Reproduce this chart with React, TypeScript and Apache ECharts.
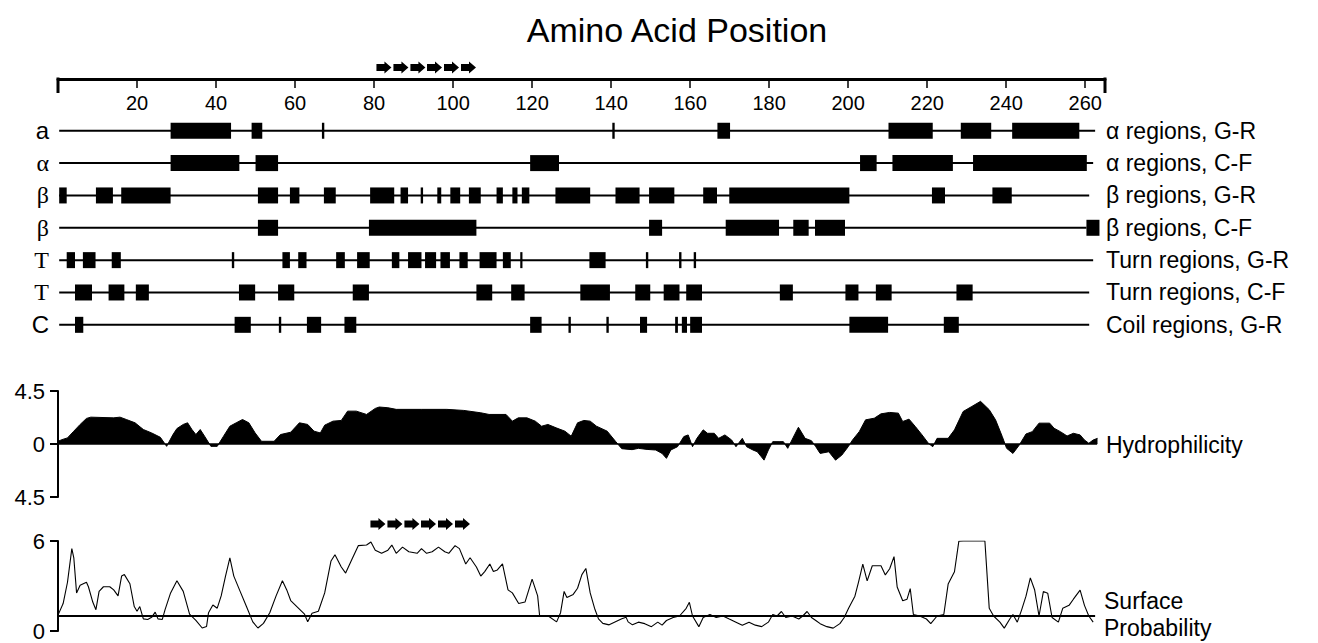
import React, { useEffect, useRef } from "react";
import * as echarts from "echarts";

const SANS = '"Liberation Sans", Arial, Helvetica, sans-serif';
const SERIF = '"Liberation Serif", "Times New Roman", serif';

// Position axis
const positionRange = [0, 265];
const positionInterval = 20;
const positionTickLabels = ["20", "40", "60", "80", "100", "120", "140", "160", "180", "200", "220", "240", "260"];

// Track rows
const rowLeftLabels = ["a", "α", "β", "β", "T", "T", "C"];
const rowLeftSerif = [false, true, true, true, true, true, false];
const rowRightLabels = [
  "α regions, G-R",
  "α regions, C-F",
  "β regions, G-R",
  "β regions, C-F",
  "Turn regions, G-R",
  "Turn regions, C-F",
  "Coil regions, G-R",
];
const rowLineStart = [0.3, 0.3, 0.3, 0.3, 0.3, 0.3, 0.3];
const rowLineEnd = [262.5, 262, 261, 260.3, 262, 261, 261];

const alphaRegionsGR = [[28.5, 43.8], [49, 51.7], [66.8, 67.4], [140.3, 140.9], [166.9, 170.1], [210.2, 221.4], [228.5, 236.2], [241.5, 258.5]];
const alphaRegionsCF = [[28.5, 45.9], [50, 55.7], [119.5, 126.8], [203, 207.2], [211.2, 226.5], [231.6, 260.4]];
const betaRegionsGR = [[0.3, 2.2], [9.6, 13.9], [16, 28.5], [50.6, 55.7], [58.7, 61.1], [67.3, 70.3], [79, 85.1], [86.7, 88.6], [91.8, 92.4], [96, 97], [99.3, 101.8], [104, 107], [111, 112.6], [115, 116.3], [117.4, 119.3], [125.9, 134.7], [141.1, 147.2], [149.6, 156], [163.3, 166.8], [169.9, 200.3], [221.2, 224.5], [236.5, 241.4]];
const betaRegionsCF = [[50.6, 55.7], [78.7, 105.9], [149.6, 152.9], [169, 182.5], [186.1, 190], [191.6, 199.2], [260.3, 263.6]];
const turnRegionsGR = [[2.2, 4.3], [6.3, 9.5], [13.6, 15.9], [44, 44.6], [56.8, 58.7], [60.8, 62.9], [70.4, 72.6], [75.7, 78.9], [84.5, 86.4], [88.6, 92], [92.9, 95.7], [96.8, 99.2], [101.6, 103.7], [106.7, 111], [112.6, 114.6], [117, 117.5], [134.5, 138.6], [148.8, 149.4], [157.2, 157.8], [160.9, 161.5]];
const turnRegionsCF = [[4.3, 8.6], [12.8, 16.8], [19.7, 23], [45.8, 49.9], [55.7, 59.8], [74.6, 78.7], [105.9, 109.9], [114.7, 118.1], [132.2, 139.7], [146.1, 149.9], [153.3, 157.3], [159, 163], [182.7, 186], [199.3, 202.6], [207, 211], [227.4, 231.5]];
const coilRegionsGR = [[4.3, 6.4], [44.7, 48.8], [55.9, 56.5], [63, 66.6], [72.5, 75.5], [119.5, 122.4], [129.2, 129.8], [138.8, 139.4], [147.3, 149.1], [156.2, 156.9], [157.9, 159.2], [160, 163], [200.3, 210.1], [224.2, 228]];

const rowRegions = [alphaRegionsGR, alphaRegionsCF, betaRegionsGR, betaRegionsCF, turnRegionsGR, turnRegionsCF, coilRegionsGR];

// Peptide marker (arrows), residue positions
const peptideArrows = [80.6, 84.9, 89.2, 93.4, 97.7, 102.0];

// Hydrophilicity profile [position, value]
const hydrophilicity = [
  [0, 0.23], [1, 0.37], [2.4, 0.52], [4, 1.09], [5.6, 1.66], [7.2, 2.17], [8.3, 2.28], [14.1, 2.22], [15.7, 2.28], [17.3, 2.08],
  [19.5, 1.8], [21.6, 1.23], [23.7, 0.94], [25.9, 0.57], [27.5, -0.2], [29.1, 0.8], [30.1, 1.31], [31.7, 1.66], [32.8, 1.8], [33.9, 1.23],
  [34.9, 0.8], [36, 1.23], [37.1, 0.66], [38.7, -0.2], [40.3, -0.2], [41.9, 0.66], [43.5, 1.51], [45.1, 1.8], [46.7, 2.08], [48.3, 1.8],
  [49.9, 0.94], [51.5, 0.23], [54.7, 0.23], [56.3, 0.8], [58.9, 1.0], [61.1, 1.8], [63.2, 1.66], [64.8, 1.09], [66.4, 0.94], [67.5, 1.6],
  [69.6, 1.94], [71.7, 2.0], [73.3, 2.79], [75.5, 2.79], [78.1, 2.51], [80.3, 3.02], [81.3, 3.14], [83.5, 3.08], [85.6, 2.94], [92, 2.94],
  [98.4, 2.94], [102.7, 2.85], [107, 2.65], [109.1, 2.51], [113.4, 2.51], [115, 1.94], [116.5, 2.22], [118.7, 2.22], [120.8, 1.94], [122.4, 1.51],
  [124, 1.66], [126.1, 1.37], [128.3, 1.09], [129.9, 0.66], [131.5, 1.8], [133.1, 2.0], [134.7, 1.94], [136.3, 1.51], [139, 1.09], [141.1, 0.23],
  [142.7, -0.4], [145.3, -0.48], [146.9, -0.37], [149.1, -0.46], [151.3, -0.51], [152.9, -0.8], [154, -1.22], [155.1, -0.51], [156.8, -0.23], [158.4, 0.63],
  [159.5, 0.77], [160.6, -0.23], [161.7, 0.48], [163.3, 1.2], [164.4, 0.91], [166.1, 0.91], [167.2, 0.48], [168.8, 0.77], [170.5, 0.34], [171.6, -0.23],
  [173.2, 0.48], [174.3, -0.23], [175.9, -0.51], [177, -0.66], [178.7, -1.37], [179.8, -0.51], [180.9, 0.2], [182.5, 0.2], [183.6, 0.2], [184.7, -0.37],
  [186.4, 0.77], [187.4, 1.42], [189.1, 0.48], [190.7, 0.28], [191.8, -0.23], [192.9, -0.8], [195.1, -0.66], [196.8, -1.37], [198.4, -0.94], [200, -0.23],
  [201.1, 0.34], [202.8, 1.05], [204.4, 2.05], [206.6, 2.19], [208.3, 2.56], [210.5, 2.68], [212.7, 2.62], [213.8, 1.91], [215.4, 2.11], [217, 1.48],
  [218.7, 0.77], [220.3, 0.06], [221.4, -0.23], [222.5, 0.48], [225.3, 0.48], [226.9, 1.2], [229.1, 2.76], [231.3, 3.19], [233.5, 3.62], [235.7, 2.91],
  [237.3, 2.05], [239, 0.63], [240.1, -0.37], [241.7, -0.8], [243.3, -0.09], [245, 0.85], [246.6, 1.05], [248.3, 1.77], [251, 1.77], [252.1, 1.34],
  [253.7, 1.05], [255.4, 0.68], [257, 0.91], [258.7, 0.77], [259.8, 0.34], [260.9, 0.06], [262, 0.34], [263.1, 0.48],
];

// Surface probability profile [position, value]
const surfaceProbability = [
  [0, 1.06], [1.3, 1.83], [2.4, 3.25], [3.5, 5.49], [4, 4.88], [4.7, 2.54], [5.6, 3.05], [7.2, 3.25], [7.7, 2.95], [8.8, 1.93],
  [9.6, 1.42], [10.4, 2.64], [11.5, 2.95], [13.1, 2.95], [14.1, 2.74], [15.2, 2.34], [16.1, 3.66], [16.8, 3.76], [18.2, 3.15], [19.3, 1.63],
  [20, 1.32], [20.7, 1.63], [21.6, 0.81], [22.7, 0.77], [23.7, 0.91], [24.6, 1.26], [25.3, 0.81], [26.4, 0.77], [27.1, 1.42], [28.5, 2.54],
  [30.1, 3.35], [31.7, 2.64], [33.3, 1.12], [34.9, 0.71], [36.5, 0.2], [37.6, 0.3], [38.1, 1.22], [39.2, 1.73], [40.3, 1.52], [41.3, 2.34],
  [42.4, 3.66], [43.5, 4.88], [44.5, 3.66], [46.1, 2.64], [47.7, 1.63], [49.3, 0.61], [50.6, 0.2], [52, 0.51], [53.6, 1.22], [55.2, 2.34],
  [56.8, 3.35], [57.9, 2.74], [58.9, 2.03], [61.1, 1.46], [62.4, 1.12], [63.2, 0.61], [64.3, 1.18], [65.9, 1.32], [67.5, 2.54], [69.1, 4.67],
  [70.1, 5.08], [71.7, 4.27], [72.8, 3.86], [74.4, 4.78], [76, 5.69], [78.1, 5.73], [79.2, 5.93], [80.3, 5.39], [81.9, 5.18], [83.5, 5.39],
  [84.5, 5.73], [85.6, 5.18], [87.2, 5.59], [88.8, 5.28], [90.9, 5.18], [92, 5.49], [93.3, 5.18], [94.7, 5.28], [96.3, 5.59], [97.9, 5.28],
  [98.9, 5.18], [100.5, 5.69], [101.6, 5.49], [103.2, 4.47], [104.3, 4.88], [105.9, 4.27], [107, 3.66], [108, 3.96], [109.3, 4.47], [110.2, 3.96],
  [111.2, 4.07], [112.5, 4.47], [113.9, 2.74], [115, 2.54], [116.6, 1.83], [118.2, 1.93], [120, 3.46], [121.4, 2.34], [121.9, 1.02], [124, 1.02],
  [126.2, 0.61], [127.2, 1.22], [128.1, 2.64], [128.8, 2.24], [130.4, 2.44], [131.5, 2.85], [132.6, 3.76], [133.6, 4.17], [134.7, 2.54], [135.8, 1.52],
  [136.8, 0.81], [137.9, 0.51], [139.5, 0.41], [141.1, 0.61], [142.7, 0.81], [143.8, 0.91], [144.3, 0.61], [145.4, 0.41], [146.9, 0.59], [148.5, 0.49],
  [150.2, 0.29], [151.8, 0.59], [152.9, 0.39], [154, 0.7], [155.7, 0.9], [157.3, 1.0], [159, 1.51], [159.8, 1.91], [160.6, 1.0], [162.2, 0.29],
  [163.3, 0.9], [165, 1.1], [166.6, 0.9], [168.3, 1.0], [169.9, 0.8], [171.6, 0.59], [173.2, 0.39], [174.9, 0.59], [176.5, 0.39], [178.1, 0.29],
  [179.8, 0.59], [180.9, 1.1], [182, 1.0], [183.1, 1.3], [184.2, 0.9], [185.8, 1.0], [187.5, 0.8], [188.5, 1.0], [189.6, 1.3], [190.7, 0.9],
  [191.8, 0.7], [192.9, 0.49], [194.6, 0.29], [196.2, 0.19], [197.9, 0.49], [199, 0.9], [200.1, 1.51], [201.7, 2.32], [202.6, 3.24], [203.7, 4.46],
  [204.8, 3.34], [206.1, 4.35], [208.3, 4.35], [209.4, 3.74], [210.5, 4.15], [211.6, 4.96], [212.4, 2.93], [213.8, 2.02], [214.9, 2.12], [215.7, 2.83],
  [216.5, 1.1], [218.1, 1.0], [219.8, 0.8], [220.9, 0.49], [222.5, 1.0], [224.2, 1.1], [225.3, 3.13], [226.9, 3.95], [228, 5.98], [229.1, 6.0],
  [234.6, 6.0], [235.7, 1.51], [236.8, 1.0], [238.4, 0.59], [239.5, 0.19], [240.9, 0.8], [241.7, 1.1], [242.8, 0.59], [243.9, 1.41], [245, 2.32],
  [246.1, 3.54], [247.2, 2.73], [248.3, 1.0], [249.4, 2.63], [250.5, 2.52], [251.6, 0.9], [253.2, 0.59], [254.3, 1.51], [255.9, 1.71], [257, 2.12],
  [258.7, 2.73], [259.8, 1.71], [260.9, 1.0], [262, 0.59],
];
const surfaceThreshold = 1;

const rowAxisMin = -1.6;
const rowAxisMax = 6.5;

function buildOption() {
  const trackData: number[][] = [];
  rowLeftLabels.forEach((_, i) => trackData.push([i, rowLineStart[i], rowLineEnd[i], 0]));
  rowRegions.forEach((regs, i) => regs.forEach(([s, e]) => trackData.push([i, s, e, 1])));

  const arrowShape = (x: number, y: number) => ({
    type: "polygon",
    shape: {
      points: [
        [x, y - 3.5], [x + 8, y - 3.5], [x + 8, y - 6], [x + 15, y], [x + 8, y + 6], [x + 8, y + 3.5], [x, y + 3.5],
      ],
    },
    style: { fill: "#000" },
  });

  const valueXAxis = (gridIndex: number) => ({
    type: "value",
    gridIndex,
    min: positionRange[0],
    max: positionRange[1],
    show: false,
  });

  const textStyle = (text: string, font: string, align: string) => ({
    text,
    font,
    fill: "#000",
    textAlign: align,
    textVerticalAlign: "middle",
    align,
    verticalAlign: "middle",
  });

  return {
    animation: false,
    backgroundColor: "#fff",
    graphic: [
      { type: "text", x: 677, y: 30, style: textStyle("Amino Acid Position", `34px ${SANS}`, "center") },
      { type: "text", x: 1106, y: 445, style: textStyle("Hydrophilicity", `23px ${SANS}`, "left") },
      { type: "text", x: 1104, y: 601, style: textStyle("Surface", `23px ${SANS}`, "left") },
      { type: "text", x: 1104, y: 628, style: textStyle("Probability", `23px ${SANS}`, "left") },
    ],
    grid: [
      { left: 58, width: 1047, top: 79, height: 262 },
      { left: 58, width: 1047, top: 391, height: 106 },
      { left: 58, width: 1047, top: 541, height: 90 },
    ],
    xAxis: [
      {
        type: "value",
        gridIndex: 0,
        position: "top",
        min: positionRange[0],
        max: positionRange[1],
        interval: positionInterval,
        axisLine: { show: true, onZero: false, lineStyle: { color: "#000", width: 3 } },
        axisTick: { show: true, inside: true, length: 9, lineStyle: { color: "#000", width: 1.5 } },
        axisLabel: {
          inside: true,
          margin: 14,
          fontSize: 20,
          color: "#000",
          fontFamily: SANS,
          formatter: (v: number) => (positionTickLabels.includes(String(v)) ? String(v) : ""),
        },
        splitLine: { show: false },
      },
      valueXAxis(1),
      valueXAxis(2),
    ],
    yAxis: [
      { type: "value", gridIndex: 0, min: rowAxisMin, max: rowAxisMax, inverse: true, show: false },
      {
        type: "value",
        gridIndex: 1,
        min: -4.5,
        max: 4.5,
        interval: 4.5,
        axisLine: { show: true, onZero: false, lineStyle: { color: "#000", width: 2 } },
        axisTick: { show: true, length: 8, lineStyle: { color: "#000", width: 2 } },
        axisLabel: {
          fontSize: 22,
          color: "#000",
          fontFamily: SANS,
          margin: 13,
          formatter: (v: number) => (v === 0 ? "0" : String(Math.abs(v))),
        },
        splitLine: { show: false },
      },
      {
        type: "value",
        gridIndex: 2,
        min: 0,
        max: 6,
        interval: 6,
        axisLine: { show: true, onZero: false, lineStyle: { color: "#000", width: 2 } },
        axisTick: { show: true, length: 8, lineStyle: { color: "#000", width: 2 } },
        axisLabel: { fontSize: 22, color: "#000", fontFamily: SANS, margin: 13 },
        splitLine: { show: false },
      },
    ],
    series: [
      {
        type: "custom",
        name: "tracks",
        xAxisIndex: 0,
        yAxisIndex: 0,
        clip: false,
        silent: true,
        encode: { x: [1, 2], y: 0 },
        data: trackData,
        renderItem: (params: any, api: any) => {
          const row = api.value(0);
          const s = api.value(1);
          const e = api.value(2);
          const kind = api.value(3);
          const p1 = api.coord([s, row]);
          const p2 = api.coord([e, row]);
          if (kind === 0) {
            return {
              type: "line",
              shape: { x1: p1[0], y1: p1[1], x2: p2[0], y2: p2[1] },
              style: { stroke: "#000", lineWidth: 2 },
            };
          }
          const w = Math.max(p2[0] - p1[0], 2.2);
          return {
            type: "rect",
            shape: { x: p1[0], y: p1[1] - 8, width: w, height: 16 },
            style: { fill: "#000" },
          };
        },
      },
      {
        type: "custom",
        name: "rowLabels",
        xAxisIndex: 0,
        yAxisIndex: 0,
        clip: false,
        silent: true,
        encode: { x: 0, y: 1 },
        data: rowLeftLabels.map((_, i) => [positionRange[0], i]),
        renderItem: (params: any, api: any) => {
          const i = params.dataIndex;
          const pL = api.coord([positionRange[0], api.value(1)]);
          const pR = api.coord([positionRange[1], api.value(1)]);
          return {
            type: "group",
            children: [
              {
                type: "text",
                x: pL[0] - 9,
                y: pL[1],
                style: textStyle(rowLeftLabels[i], `24px ${rowLeftSerif[i] ? SERIF : SANS}`, "right"),
              },
              {
                type: "text",
                x: pR[0] + 1,
                y: pR[1],
                style: textStyle(rowRightLabels[i], `23px ${SANS}`, "left"),
              },
            ],
          };
        },
      },
      {
        type: "custom",
        name: "axisBrackets",
        xAxisIndex: 0,
        yAxisIndex: 0,
        clip: false,
        silent: true,
        encode: { x: 0, y: 1 },
        data: positionRange.map((v) => [v, rowAxisMin]),
        renderItem: (params: any, api: any) => {
          const p = api.coord([api.value(0), api.value(1)]);
          return {
            type: "line",
            shape: { x1: p[0], y1: p[1] - 1.5, x2: p[0], y2: p[1] + 14 },
            style: { stroke: "#000", lineWidth: 3 },
          };
        },
      },
      {
        type: "custom",
        name: "peptideTop",
        xAxisIndex: 0,
        yAxisIndex: 0,
        clip: false,
        silent: true,
        encode: { x: 0, y: 1 },
        data: peptideArrows.map((v) => [v, rowAxisMin]),
        renderItem: (params: any, api: any) => {
          const p = api.coord([api.value(0), api.value(1)]);
          return arrowShape(p[0], p[1] - 11.5);
        },
      },
      {
        type: "line",
        name: "Hydrophilicity",
        xAxisIndex: 1,
        yAxisIndex: 1,
        data: hydrophilicity,
        showSymbol: false,
        symbol: "none",
        silent: true,
        lineStyle: { color: "#000", width: 1 },
        areaStyle: { color: "#000", opacity: 1, origin: "auto" },
        markLine: {
          silent: true,
          symbol: ["none", "none"],
          label: { show: false },
          lineStyle: { color: "#000", width: 1.5, type: "solid" },
          data: [[{ coord: [positionRange[0], 0] }, { coord: [263, 0] }]],
        },
      },
      {
        type: "line",
        name: "Surface Probability",
        xAxisIndex: 2,
        yAxisIndex: 2,
        data: surfaceProbability,
        showSymbol: false,
        symbol: "none",
        silent: true,
        lineStyle: { color: "#000", width: 1.1 },
        markLine: {
          silent: true,
          symbol: ["none", "none"],
          label: { show: false },
          lineStyle: { color: "#000", width: 2, type: "solid" },
          data: [[{ coord: [positionRange[0], surfaceThreshold] }, { coord: [262.5, surfaceThreshold] }]],
        },
      },
      {
        type: "custom",
        name: "peptideBottom",
        xAxisIndex: 2,
        yAxisIndex: 2,
        clip: false,
        silent: true,
        encode: { x: 0, y: 1 },
        data: peptideArrows.map((v) => [v, 6]),
        renderItem: (params: any, api: any) => {
          const p = api.coord([api.value(0), api.value(1)]);
          return arrowShape(p[0] - 6, p[1] - 17);
        },
      },
    ],
  };
}

export default function App() {
  const ref = useRef<HTMLDivElement>(null);
  useEffect(() => {
    if (!ref.current) return;
    const chart = echarts.init(ref.current, undefined, { renderer: "svg" });
    chart.setOption(buildOption() as any);
    return () => chart.dispose();
  }, []);
  return (
    <div
      ref={ref}
      style={{ position: "fixed", left: 0, top: 0, width: 1318, height: 643, background: "#fff" }}
    />
  );
}
